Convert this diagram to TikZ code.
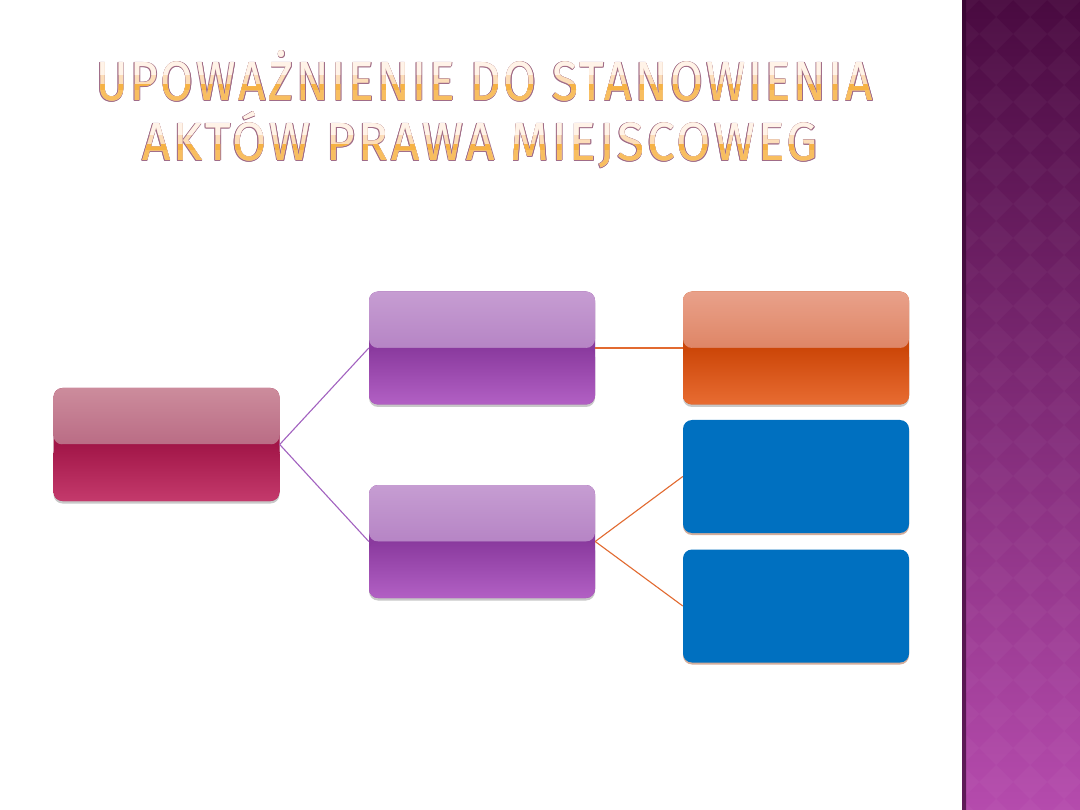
\documentclass[tikz,border=0pt]{standalone}
\usepackage{fontspec}
\usepackage{graphicx}
\usetikzlibrary{shadows}
\newfontfamily\ttlfont[LetterSpace=6]{Fira Sans}
\definecolor{strtop}{HTML}{490A40}
\definecolor{strmid}{HTML}{7C2C74}
\definecolor{strbot}{HTML}{B54BAD}
\definecolor{strline}{HTML}{3A0634}
\definecolor{ttlout}{HTML}{A06C88}
\definecolor{ttllight}{HTML}{FFF3E8}
\definecolor{ttlmid}{HTML}{FCDDB8}
\definecolor{ttldark}{HTML}{F8BE60}
\definecolor{ttlband}{HTML}{F6B244}
\definecolor{linepur}{HTML}{A262C0}
\definecolor{lineora}{HTML}{E26A30}
\definecolor{rtop}{HTML}{CC8C9C}
\definecolor{rmid}{HTML}{A84C6E}
\definecolor{rlow}{HTML}{A21648}
\definecolor{rbot}{HTML}{C43A6C}
\definecolor{ptop}{HTML}{C69DD2}
\definecolor{pmid}{HTML}{A66CB8}
\definecolor{plow}{HTML}{8A3A9E}
\definecolor{pbot}{HTML}{B260C4}
\definecolor{otop}{HTML}{E9A18A}
\definecolor{omid}{HTML}{D46A42}
\definecolor{olow}{HTML}{CC4608}
\definecolor{obot}{HTML}{E86C32}
\definecolor{bluebox}{HTML}{0070C0}
\newcommand{\ttlA}{{\ttlfont\resizebox{777pt}{38pt}{\raisebox{0pt}[\fontcharht\font`U][0pt]{UPOWAŻNIENIE DO STANOWIENIA}}}}
\newcommand{\ttlB}{{\ttlfont\resizebox{676pt}{37pt}{\raisebox{0pt}[\fontcharht\font`A][0pt]{AKTÓW PRAWA MIEJSCOWEG}}}}
\tikzset{
  gloss/.style n args={4}{rounded corners=9pt, minimum width=226pt, minimum height=113pt,
    inner sep=0pt, fill=#3,
    drop shadow={shadow xshift=0pt, shadow yshift=-2.5pt, opacity=0.3, fill=black!70},
    path picture={
      \shade[top color=#1, bottom color=#2] (path picture bounding box.north west) rectangle (path picture bounding box.east);
      \shade[top color=#3, bottom color=#4] (path picture bounding box.west) rectangle (path picture bounding box.south east);
    }},
  flatbox/.style={rounded corners=9pt, minimum width=226pt, minimum height=113pt,
    inner sep=0pt, fill=bluebox,
    drop shadow={shadow xshift=0pt, shadow yshift=-2pt, opacity=0.45, fill=lineora!70!black}},
  ttl/.style={anchor=base west, inner sep=0pt, outer sep=0pt},
  conp/.style={draw=linepur, line width=1.1pt},
  cono/.style={draw=lineora, line width=1.1pt}
}
\begin{document}
\begin{tikzpicture}[x=1pt,y=-1pt]
\useasboundingbox (0,0) rectangle (1080,810);
\fill[white] (0,0) rectangle (1080,810);
% right strip
\shade[top color=strtop, middle color=strmid, bottom color=strbot] (962,0) rectangle (1080,810);
\begin{scope}
  \clip (962,0) rectangle (1080,810);
  \foreach \i in {0,...,4} {
    \foreach \j in {0,...,24} {
      \fill[white, opacity=0.03] ({962+34*\i},{34*\j-17}) -- ++(17,17) -- ++(-17,17) -- ++(-17,-17) -- cycle;
    }
  }
\end{scope}
\shade[top color=strline, bottom color=strline!70!strbot] (962,0) rectangle (966,810);
% title outline
\foreach \dx/\dy [count=\k] in {0.7/0, -0.7/0, 0/0.7, 0/-0.7, 0.5/0.5, -0.5/0.5, 0.5/-0.5, -0.5/-0.5} {
  \node[ttl, text=ttlout] (oa\k) at ({96+\dx},{101+\dy}) {\ttlA};
  \node[ttl, text=ttlout] (ob\k) at ({142+\dx},{161+\dy}) {\ttlB};
}
% title fill
\node[ttl, text=ttlmid] (ta) at (96,101) {\ttlA};
\node[ttl, text=ttlmid] (tb) at (142,161) {\ttlB};
\begin{scope}
  \clip (0,40) rectangle (960,75);
  \node[ttl, text=ttllight] (ta1) at (96,101) {\ttlA};
\end{scope}
\begin{scope}
  \clip (0,85) rectangle (960,110);
  \node[ttl, text=ttldark] (ta2) at (96,101) {\ttlA};
\end{scope}
\begin{scope}
  \clip (0,85) rectangle (960,90);
  \node[ttl, text=ttlband] (ta3) at (96,101) {\ttlA};
\end{scope}
\begin{scope}
  \clip (0,110) rectangle (960,135);
  \node[ttl, text=ttllight] (tb1) at (142,161) {\ttlB};
\end{scope}
\begin{scope}
  \clip (0,145) rectangle (960,170);
  \node[ttl, text=ttldark] (tb2) at (142,161) {\ttlB};
\end{scope}
\begin{scope}
  \clip (0,145) rectangle (960,150);
  \node[ttl, text=ttlband] (tb3) at (142,161) {\ttlB};
\end{scope}
% boxes
\node[gloss={rtop}{rmid}{rlow}{rbot}] (root) at (166.5,444.5) {};
\node[gloss={ptop}{pmid}{plow}{pbot}] (pa) at (482,348) {};
\node[gloss={ptop}{pmid}{plow}{pbot}] (pb) at (482,541.5) {};
\node[gloss={otop}{omid}{olow}{obot}] (oa) at (796,348) {};
\node[flatbox] (ba) at (796,476.5) {};
\node[flatbox] (bb) at (796,606) {};
% connectors
\draw[conp] (root.east) -- (pa.west);
\draw[conp] (root.east) -- (pb.west);
\draw[cono] (pa.east) -- (oa.west);
\draw[cono] (pb.east) -- (ba.west);
\draw[cono] (pb.east) -- (bb.west);
\end{tikzpicture}
\end{document}
